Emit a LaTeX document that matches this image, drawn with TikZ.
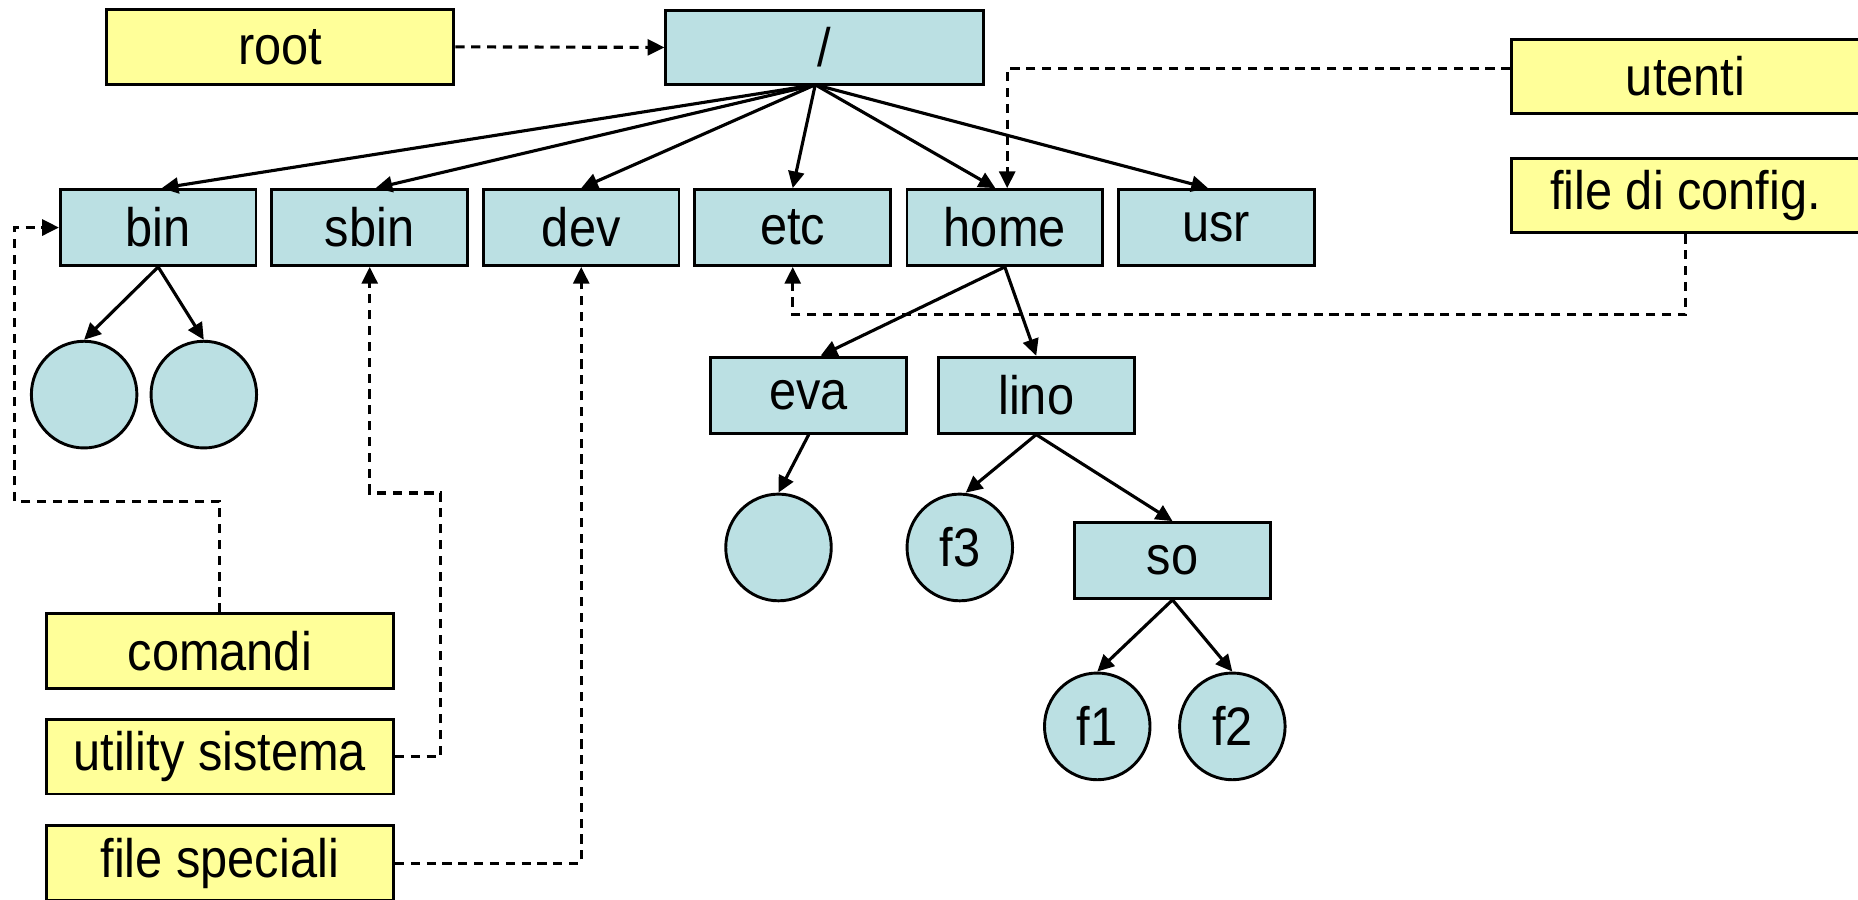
\documentclass[tikz,border=0pt]{standalone}
\usepackage{fontspec}
\setmainfont{Liberation Sans}[FakeStretch=0.9]
\usetikzlibrary{arrows.meta,shapes.geometric}

\definecolor{dirblue}{RGB}{187,224,227}
\definecolor{noteyellow}{RGB}{255,255,153}

\tikzset{
	dirbox/.style={draw, fill=dirblue, line width=0.7pt, minimum width=1.65cm, minimum height=0.64cm, inner sep=0pt},
	notebox/.style={draw, fill=noteyellow, line width=0.7pt, minimum width=2.93cm, minimum height=0.63cm, inner sep=0pt},
	filecirc/.style={draw, fill=dirblue, line width=0.7pt, ellipse, minimum width=0.89cm, minimum height=0.9cm, inner sep=0pt},
	tree/.style={line width=0.75pt, -{Triangle[length=4pt,width=3.8pt]}},
	note/.style={line width=0.75pt, dash pattern=on 2.2pt off 1.6pt, -{Triangle[length=4pt,width=3.8pt]}}
}

\begin{document}
\begin{tikzpicture}[x=0.01cm, y=-0.01cm, font=\fontsize{13}{15}\selectfont]
	\useasboundingbox (0,0) rectangle (1568,759);
	% Boxes
	\node[dirbox, minimum width=2.68cm, minimum height=0.63cm] (slash) at (696,40) {/};
	\node[dirbox] (bin) at (133.5,192) {bin};
	\node[dirbox] (sbin) at (312,192) {sbin};
	\node[dirbox] (dev) at (490.5,192) {dev};
	\node[dirbox] (etc) at (669,192) {etc};
	\node[dirbox] (home) at (848,192) {home};
	\node[dirbox] (usr) at (1026.5,192) {usr};
	\node[dirbox] (eva) at (682.5,333.5) {eva};
	\node[dirbox] (lino) at (874.5,333.5) {lino};
	\node[dirbox] (so) at (989.5,473) {so};
	% Files
	\node[filecirc] (bina) at (71,333) {};
	\node[filecirc] (binb) at (172,333) {};
	\node[filecirc] (evaf) at (657,462) {};
	\node[filecirc] (fthree) at (810,462) {f3};
	\node[filecirc] (fone) at (926,613) {f1};
	\node[filecirc] (ftwo) at (1040,613) {f2};
	% Notes
	\node[notebox] (root) at (236.5,39.5) {root};
	\node[notebox] (utenti) at (1422.5,64.5) {utenti};
	\node[notebox] (config) at (1422.5,165) {file di config.};
	\node[notebox] (comandi) at (185.5,549.5) {comandi};
	\node[notebox] (utility) at (185.5,638.5) {utility sistema};
	\node[notebox] (speciali) at (185.5,728.5) {file speciali};
	% Tree arrows
	\coordinate (hub) at (688,71.5);
	\draw[tree] (hub) -- ([xshift=0.03cm]bin.north);
	\draw[tree] (hub) -- ([xshift=0.05cm]sbin.north);
	\draw[tree] (hub) -- (dev.north);
	\draw[tree] (hub) -- (etc.north);
	\draw[tree] (hub) -- ([xshift=-0.08cm]home.north);
	\draw[tree] (hub) -- ([xshift=-0.07cm]usr.north);
	\draw[tree] (bin.south) -- (bina.north);
	\draw[tree] (bin.south) -- (binb.north);
	\draw[tree] (home.south) -- ([xshift=0.1cm]eva.north);
	\draw[tree] (home.south) -- (lino.north);
	\draw[tree] (eva.south) -- (evaf.north);
	\draw[tree] (lino.south) -- ([xshift=0.05cm]fthree.north);
	\draw[tree] (lino.south) -- (so.north);
	\draw[tree] (so.south) -- (fone.north);
	\draw[tree] (so.south) -- (ftwo.north);
	% Dashed notes
	\coordinate (cmdbend) at (12,423);
	\coordinate (utlbend) at (372,416);
	\draw[note] (root.east) -- (slash.west);
	\draw[note] ([yshift=0.065cm]utenti.west) -| ([xshift=0.02cm]home.north);
	\draw[note] (config.south) -- ++(0,68) -| (etc.south);
	\draw[note] (comandi.north) |- (cmdbend) |- (bin.west);
	\draw[note] (utility.east) -| (utlbend) -| (sbin.south);
	\draw[note] (speciali.east) -| (dev.south);
\end{tikzpicture}
\end{document}
